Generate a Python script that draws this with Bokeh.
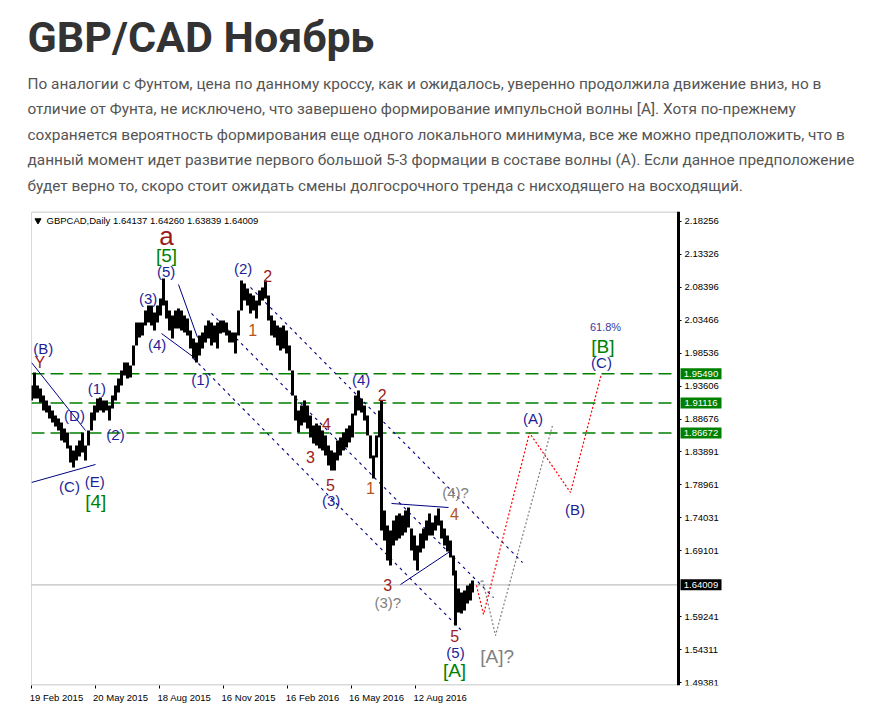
from bokeh.plotting import figure
from bokeh.models import Range1d, FixedTicker, PrintfTickFormatter, BoxAnnotation
from bokeh.layouts import column
from bokeh.embed import file_html
from bokeh.resources import INLINE
from bokeh.core.properties import value

# ---------------- header text ----------------
title_text = "GBP/CAD Ноябрь"
para_lines = [
    "По аналогии с Фунтом, цена по данному кроссу, как и ожидалось, уверенно продолжила движение вниз, но в",
    "отличие от Фунта, не исключено, что завершено формирование импульсной волны [A]. Хотя по-прежнему",
    "сохраняется вероятность формирования еще одного локального минимума, все же можно предположить, что в",
    "данный момент идет развитие первого большой 5-3 формации в составе волны (A). Если данное предположение",
    "будет верно то, скоро стоит ожидать смены долгосрочного тренда с нисходящего на восходящий.",
]
chart_caption = "GBPCAD,Daily  1.64137 1.64260 1.63839 1.64009"

# ---------------- price data (daily bars, index = trading day) ----------------
bar_idx = [0, 3, 6, 9, 12, 15, 18, 21, 24, 27, 30, 33, 36, 39, 42, 45, 48, 51, 54, 57,
           60, 63, 66, 69, 72, 75, 78, 81, 84, 87, 90, 93, 96, 99, 102, 105, 108, 111, 114, 117,
           120, 123, 126, 129, 132, 135, 138, 141, 144, 147, 150, 153, 156, 159, 162, 165, 168, 171, 174, 177,
           180, 183, 186, 189, 192, 195, 198, 201, 204, 207, 210, 213, 216, 219, 222, 225, 228, 231, 234, 237,
           240, 243, 246, 249, 252, 255, 258, 261, 264, 267, 270, 273, 276, 279, 282, 285, 288, 291, 294, 297,
           300, 303, 306, 309, 312, 315, 318, 321, 324, 327, 330, 333, 336, 339, 342, 345, 348, 350, 353, 356,
           359, 362, 365, 368, 371, 374, 377, 380, 383, 386, 389, 392, 395, 398, 401, 404, 407, 410, 413, 416,
           419, 422, 424, 427, 430, 433, 436, 439, 441]
bar_high = [1.9374, 1.9568, 1.9374, 1.9330, 1.9225, 1.9151, 1.9076, 1.9001, 1.8927, 1.8882,
            1.8822, 1.8733, 1.8673, 1.8479, 1.8405, 1.8479, 1.8554, 1.8673, 1.8479, 1.8703,
            1.8971, 1.9076, 1.9181, 1.9195, 1.9151, 1.9151, 1.9076, 1.9225, 1.9374, 1.9479,
            1.9598, 1.9717, 1.9717, 1.9673, 1.9971, 2.0314, 2.0314, 2.0314, 2.0493, 2.0568,
            2.0568, 2.0463, 2.0568, 2.0672, 2.0971, 2.0642, 2.0493, 2.0419, 2.0493, 2.0523,
            2.0493, 2.0419, 2.0374, 2.0195, 2.0075, 2.0016, 2.0120, 2.0165, 2.0269, 2.0344,
            2.0314, 2.0269, 2.0314, 2.0344, 2.0344, 2.0314, 2.0195, 2.0165, 2.0165, 2.0493,
            2.0941, 2.0896, 2.0822, 2.0747, 2.0717, 2.0642, 2.0792, 2.0837, 2.0941, 2.0717,
            2.0419, 2.0344, 2.0269, 2.0240, 2.0269, 2.0195, 1.9971, 1.9598, 1.9225, 1.9001,
            1.9076, 1.9151, 1.9076, 1.8927, 1.8778, 1.8807, 1.8778, 1.8703, 1.8629, 1.8479,
            1.8405, 1.8375, 1.8554, 1.8599, 1.8673, 1.8733, 1.8778, 1.8956, 1.9225, 1.9300,
            1.9181, 1.9076, 1.8927, 1.8629, 1.8330, 1.8629, 1.9001, 1.9151, 1.7510, 1.7286,
            1.7211, 1.7360, 1.7435, 1.7465, 1.7435, 1.7510, 1.7554, 1.7241, 1.7137, 1.6987,
            1.7166, 1.7241, 1.7360, 1.7465, 1.7330, 1.7435, 1.7539, 1.7360, 1.7241, 1.7137,
            1.7062, 1.6838, 1.6614, 1.6346, 1.6286, 1.6316, 1.6391, 1.6420, 1.6465]
bar_low = [1.9151, 1.9181, 1.9181, 1.9121, 1.9001, 1.8971, 1.8882, 1.8822, 1.8763, 1.8703,
           1.8554, 1.8524, 1.8435, 1.8226, 1.8151, 1.8256, 1.8315, 1.8375, 1.8256, 1.8479,
           1.8703, 1.8852, 1.8971, 1.9001, 1.8971, 1.9001, 1.8852, 1.9031, 1.9151, 1.9270,
           1.9374, 1.9524, 1.9479, 1.9494, 1.9673, 1.9971, 2.0090, 2.0120, 2.0269, 2.0314,
           2.0269, 2.0195, 2.0314, 2.0419, 2.0568, 2.0374, 2.0195, 2.0075, 2.0225, 2.0225,
           2.0195, 2.0165, 2.0120, 1.9926, 1.9777, 1.9717, 1.9822, 1.9926, 2.0016, 2.0075,
           1.9971, 2.0016, 1.9926, 2.0150, 2.0165, 2.0120, 2.0016, 2.0016, 1.9852, 2.0120,
           2.0493, 2.0642, 2.0568, 2.0448, 2.0493, 2.0374, 2.0568, 2.0642, 2.0672, 2.0344,
           2.0120, 2.0090, 1.9971, 1.9897, 1.9926, 1.9852, 1.9598, 1.9225, 1.8852, 1.8673,
           1.8778, 1.8822, 1.8733, 1.8599, 1.8509, 1.8479, 1.8435, 1.8405, 1.8330, 1.8181,
           1.8106, 1.8106, 1.8256, 1.8330, 1.8405, 1.8450, 1.8524, 1.8599, 1.8927, 1.9001,
           1.8971, 1.8852, 1.8629, 1.8286, 1.7987, 1.8300, 1.8600, 1.7211, 1.7062, 1.6764,
           1.6689, 1.6987, 1.7062, 1.7092, 1.7137, 1.7181, 1.7256, 1.6913, 1.6764, 1.6614,
           1.6883, 1.6943, 1.7062, 1.7137, 1.7137, 1.7211, 1.7286, 1.7092, 1.6987, 1.6898,
           1.6808, 1.6540, 1.5794, 1.5987, 1.5973, 1.6017, 1.6122, 1.6167, 1.6286]

# axis ticks
price_ticks = [2.18256, 2.13326, 2.08396, 2.03466, 1.98536, 1.93606, 1.88676, 1.83891,
               1.78961, 1.74031, 1.69101, 1.59241, 1.54311, 1.49381]
date_tick_idx = [0, 64, 128, 192, 256, 320, 384]
date_tick_labels = ["19 Feb 2015", "20 May 2015", "18 Aug 2015", "16 Nov 2015",
                    "16 Feb 2016", "16 May 2016", "12 Aug 2016"]

# levels
green_levels = [1.95490, 1.91116, 1.86672]
last_price = 1.64009

# chart window (bars shown) and visible price range
chart_bars = 647
price_lo, price_hi = 1.48983, 2.19704

# channel lines (dotted navy) and solid navy trend lines
chan_x0 = [219, 180, 162]
chan_y0 = [2.0837, 2.0449, 1.9777]
chan_x1 = [491, 462, 432]
chan_y1 = [1.6733, 1.6211, 1.5689]

trend_x0 = [130, 147, 0, 0, 360, 369]
trend_y0 = [2.0150, 2.0881, 1.9717, 1.7927, 1.7614, 1.6405]
trend_x1 = [164, 166, 54, 64, 417, 417]
trend_y1 = [1.9777, 2.0090, 1.8703, 1.8196, 1.7554, 1.6883]

# projected paths
red_path_x = [445, 452, 498, 539, 570]
red_path_y = [1.6391, 1.5958, 1.8667, 1.7778, 1.9549]
gray_path_x = [447, 451, 464, 521]
gray_path_y = [1.6391, 1.6480, 1.5644, 1.8778]

# wave labels
navy_text = ["(B)", "(1)", "(D)", "(2)", "(C)", "(E)", "(3)", "(4)", "(5)", "(1)", "(2)",
             "(4)", "(3)", "(5)", "(A)", "(B)", "(C)"]
navy_x = [11.7, 65.3, 43, 84, 38, 63.3, 116.7, 125.7, 134.7, 169, 211.7,
          329.7, 299.7, 424, 501.5, 543.5, 570]
navy_y = [1.9931, 1.9330, 1.8927, 1.8639, 1.7867, 1.7946, 2.0668, 1.9982, 2.1080, 1.9464, 2.1124,
          1.9464, 1.7659, 1.5395, 1.8889, 1.7524, 1.9713]

red_text = ["Y", "2", "3", "4", "5", "2", "3", "5"]
red_x = [8.3, 236.3, 279, 295, 299, 350.7, 356.3, 423.3]
red_y = [1.9722, 2.1015, 1.8305, 1.8803, 1.7897, 1.9236, 1.6405, 1.5644]

brown_text = ["1", "1", "4"]
brown_x = [221.3, 339, 423]
brown_y = [2.0195, 1.7848, 1.7460]

green_text = ["[5]", "[4]", "[A]", "[B]"]
green_x = [135, 64.3, 423, 571.3]
green_y = [2.1314, 1.7648, 1.5122, 1.9961]

gray_text = ["(3)?", "(4)?"]
gray_x = [356.3, 424]
gray_y = [1.6141, 1.7773]
gray_big_text = ["[A]?"]
gray_big_x = [465.7]
gray_big_y = [1.5331]

big_a_text = ["a"]
big_a_x = [135]
big_a_y = [2.1612]

fib_text = ["61.8%"]
fib_x = [574]
fib_y = [2.0244]

caption_x = [15]
caption_y = [2.1836]
marker_x = [6.5]

# ---------------- header figure ----------------
h = figure(width=886, height=208, x_range=Range1d(0, 886), y_range=Range1d(208, 0),
           toolbar_location=None, output_backend="svg", min_border=0,
           x_axis_location=None, y_axis_location=None)
h.grid.visible = False
h.outline_line_color = None
try:
    h.frame_align = False
except Exception:
    pass
h.text(x=[27], y=[36], text=[title_text], text_font=value("Roboto"), text_font_style="bold",
       text_font_size="43px", text_color="#333333", text_baseline="middle")
h.text(x=[27] * len(para_lines), y=[83 + 25.5 * i for i in range(len(para_lines))], text=para_lines,
       text_font=value("Roboto"), text_font_size="15.4px", text_color="#555555",
       text_baseline="middle")

# ---------------- chart figure ----------------
p = figure(frame_width=810, frame_height=474, x_range=Range1d(0, 810),
           y_range=Range1d(price_lo, price_hi),
           y_axis_location="right", toolbar_location=None, output_backend="svg",
           min_border_left=31, min_border_right=45, min_border_top=3, min_border_bottom=30)
try:
    p.frame_align = False
except Exception:
    pass
p.grid.visible = False
p.outline_line_color = None

px = (price_hi - price_lo) / 474.0
p.add_layout(BoxAnnotation(left=0, right=chart_bars, top=price_hi - 0.5 * px,
                           bottom=price_lo + 0.5 * px, fill_color=None,
                           line_color="black", line_width=1))

p.yaxis.fixed_location = chart_bars
p.yaxis.ticker = FixedTicker(ticks=price_ticks)
p.yaxis.formatter = PrintfTickFormatter(format="%.5f")
p.yaxis.major_tick_out = 3
p.yaxis.major_tick_in = 0
p.yaxis.minor_tick_out = 0
p.yaxis.minor_tick_in = 0
p.yaxis.axis_line_width = 3
p.yaxis.major_label_standoff = 3
p.yaxis.major_label_text_font = "Liberation Sans"
p.yaxis.major_label_text_font_size = "9.5px"
p.yaxis.major_label_text_color = "black"

label_centers = [t + 25 for t in date_tick_idx]
p.xaxis.ticker = FixedTicker(ticks=label_centers, minor_ticks=date_tick_idx)
p.xaxis.major_label_overrides = {c: l for c, l in zip(label_centers, date_tick_labels)}
p.xaxis.axis_line_color = None
p.xaxis.major_tick_out = 0
p.xaxis.major_tick_in = 0
p.xaxis.minor_tick_out = 3
p.xaxis.minor_tick_in = 0
p.xaxis.minor_tick_line_color = "black"
p.xaxis.major_label_standoff = 3
p.xaxis.major_label_text_font = "Liberation Sans"
p.xaxis.major_label_text_font_size = "9.5px"
p.xaxis.major_label_text_color = "black"

# levels
n_lv = len(green_levels)
p.segment([0] * n_lv, green_levels, [chart_bars] * n_lv, green_levels,
          line_color="#008000", line_dash="13 6", line_width=1.5)
p.segment([0], [last_price], [chart_bars], [last_price], line_color="#c0c0c0", line_width=1.2)

# channels and trend lines
p.segment(chan_x0, chan_y0, chan_x1, chan_y1, line_color="#000080", line_dash="3 4", line_width=1.1)
p.segment(trend_x0, trend_y0, trend_x1, trend_y1, line_color="#000080", line_width=1)

# projected paths
p.line(gray_path_x, gray_path_y, line_color="#808080", line_dash="2 2", line_width=1.2)
p.line(red_path_x, red_path_y, line_color="#ff0000", line_dash="2 2", line_width=1.2)

# price bars
p.segment(bar_idx, bar_low, bar_idx, bar_high, line_color="black", line_width=3)

# caption
p.scatter(marker_x, caption_y, marker="inverted_triangle", size=6, color="black")
p.text(caption_x, caption_y, text=[chart_caption], text_font=value("Liberation Sans"),
       text_font_size="9.5px", text_color="black", text_baseline="middle")

def lbl(xs, ys, texts, color, size):
    p.text(xs, ys, text=texts, text_font=value("Liberation Sans"), text_font_size=size,
           text_color=color, text_align="center", text_baseline="middle")

lbl(navy_x, navy_y, navy_text, "#1e1e96", "15px")
lbl(red_x, red_y, red_text, "#9b1b1b", "16px")
lbl(brown_x, brown_y, brown_text, "#b5541c", "16px")
lbl(green_x, green_y, green_text, "#008000", "19px")
lbl(gray_x, gray_y, gray_text, "#808080", "15px")
lbl(gray_big_x, gray_big_y, gray_big_text, "#808080", "19px")
lbl(big_a_x, big_a_y, big_a_text, "#9b1b1b", "26px")
lbl(fib_x, fib_y, fib_text, "#3a3a9a", "11px")

# price boxes on the price scale
box_x = chart_bars + 22.5
p.rect([box_x] * n_lv, green_levels, width=41, height=11, width_units="screen",
       height_units="screen", fill_color="#008000", line_color=None)
p.rect([box_x], [last_price], width=41, height=11, width_units="screen",
       height_units="screen", fill_color="black", line_color=None)
p.text([box_x] * n_lv, green_levels, text=["%.5f" % v for v in green_levels],
       text_font=value("Liberation Sans"), text_font_size="9.5px", text_color="white",
       text_align="center", text_baseline="middle")
p.text([box_x], [last_price], text=["%.5f" % last_price],
       text_font=value("Liberation Sans"), text_font_size="9.5px", text_color="white",
       text_align="center", text_baseline="middle")

layout = column(h, p)
open("out.html", "w").write(file_html(layout, INLINE))
